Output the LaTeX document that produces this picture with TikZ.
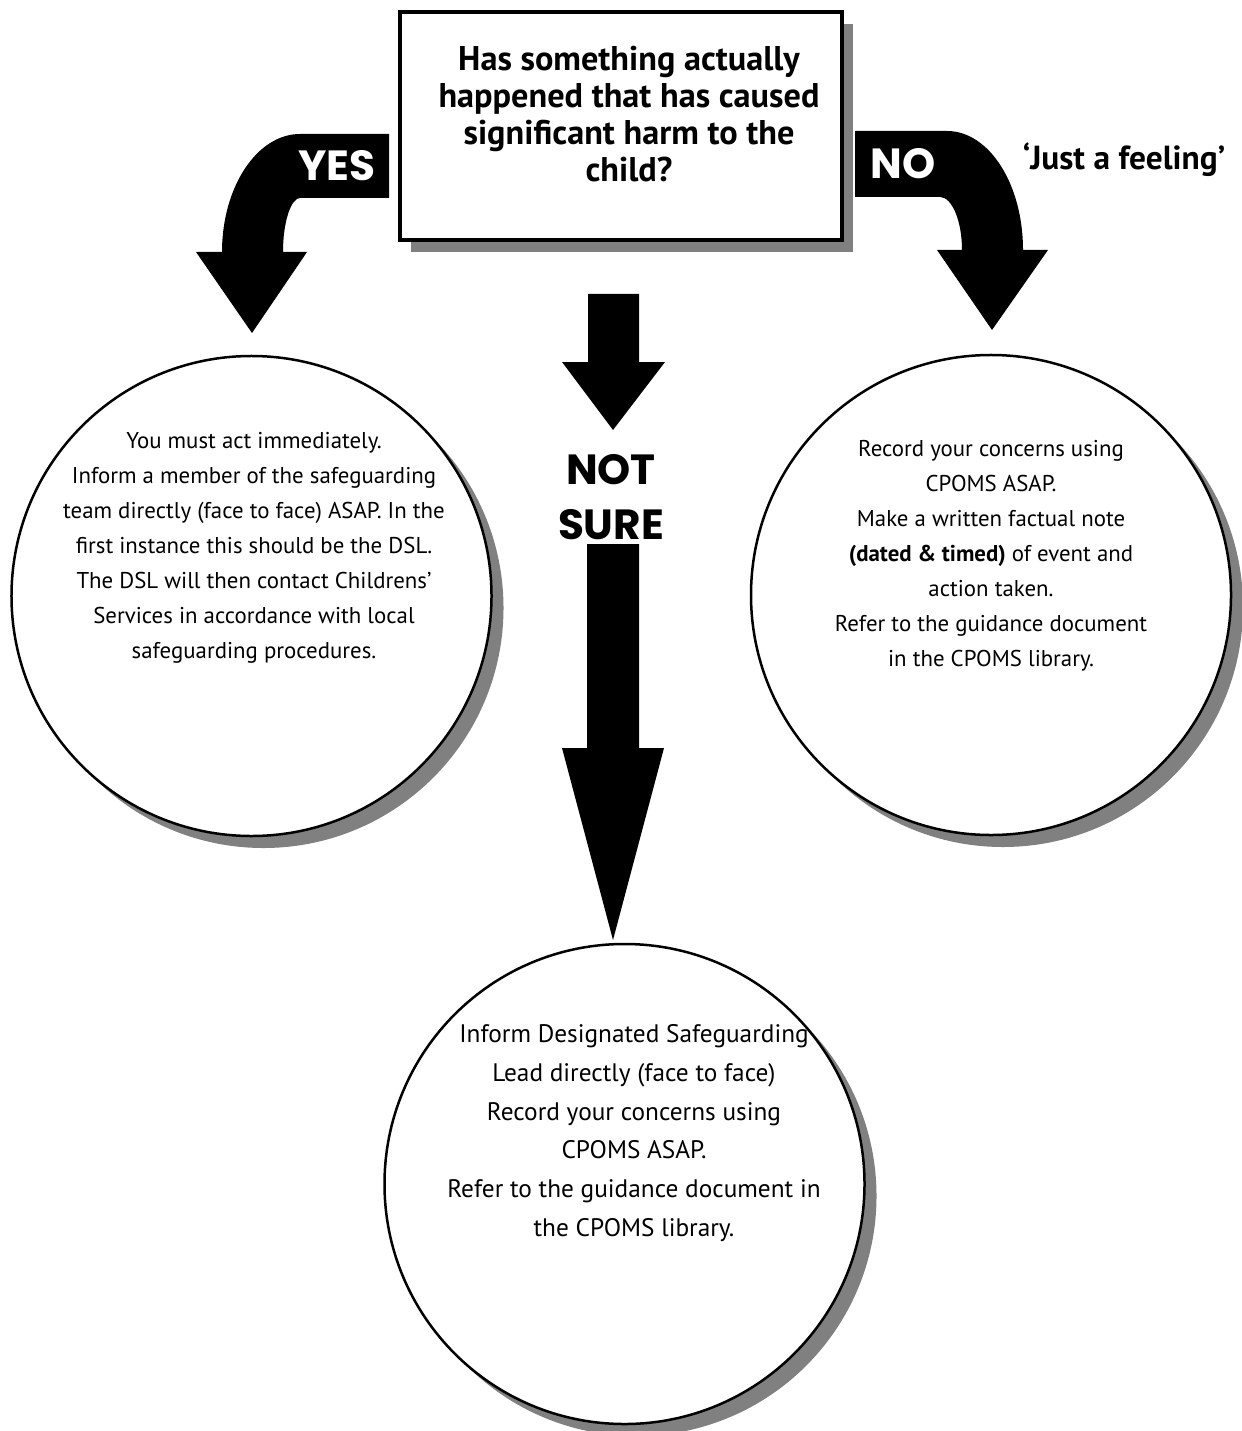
\documentclass[tikz,border=0pt]{standalone}
\usepackage{fontspec}
\setmainfont{PT Sans}
\newfontfamily\labelfont{Poppins}
\usetikzlibrary{shadows}
\definecolor{shadowgray}{RGB}{128,128,128}
\tikzset{
  qbox/.style={rectangle, draw, line width=0.7mm, fill=white,
    minimum width=88.4mm, minimum height=45.6mm,
    drop shadow={shadow xshift=2.2mm, shadow yshift=-2.4mm, fill=shadowgray, opacity=1}},
  outcome/.style={circle, draw, line width=0.5mm, fill=white, minimum size=96mm,
    drop shadow={shadow xshift=2.4mm, shadow yshift=-2.4mm, fill=shadowgray, opacity=1}},
  bodytext/.style={align=center, font=\fontsize{13}{19.9}\selectfont},
  bigtext/.style={align=center, font=\fontsize{14.4}{22}\selectfont},
  fatarrow/.style={fill=black, draw=none},
  answer/.style={font=\labelfont\fontsize{24}{24}\selectfont\bfseries, text=white},
}

\begin{document}
\begin{tikzpicture}[x=0.2mm, y=-0.2mm]
  \useasboundingbox (0,0) rectangle (1242,1431);

  % curved arrows left and right of the question
  \path[fatarrow] (389,134) -- (300,134) .. controls (257,134) and (222,187) .. (222,252)
    -- (196,252) -- (252,333) -- (307,252) -- (283,252)
    .. controls (283,222) and (291,198) .. (300,198) -- (389,198) -- cycle;
  \path[fatarrow] (855,131) -- (947,131) .. controls (989,131) and (1023,184) .. (1023,250)
    -- (1048,250) -- (992,330) -- (937,250) -- (962,250)
    .. controls (962,221) and (952,197) .. (940,197) -- (855,197) -- cycle;

  % question
  \node[qbox] (question) at (621,126) {};
  \node[align=center, font=\fontsize{19.5}{21}\selectfont\bfseries] (qtext) at (629,114)
    {Has something actually\\happened that has caused\\significant harm to the\\child?};

  \node[answer] (yes) at (337,166) {YES};
  \node[answer] (no) at (903,164) {NO};
  \node[font=\fontsize{19}{19}\selectfont\bfseries] (feeling) at (1124,160) {`Just a feeling'};

  % middle arrows
  \path[fatarrow] (588,294) -- (639,294) -- (639,362) -- (665,362) -- (613,430)
    -- (562,362) -- (588,362) -- cycle;
  \node[align=center, font=\labelfont\fontsize{24}{31}\selectfont\bfseries] (notsure) at (611,497) {NOT\\SURE};
  \path[fatarrow] (587,544) -- (639,544) -- (639,748) -- (664,748) -- (613,940)
    -- (562,748) -- (587,748) -- cycle;

  % outcomes
  \node[outcome] (harm) at (251.5,596) {};
  \node[bodytext] (harmtext) at (254,548)
    {You must act immediately.\\Inform a member of the safeguarding\\team directly (face to face) ASAP. In the\\first instance this should be the DSL.\\The DSL will then contact Childrens'\\Services in accordance with local\\safeguarding procedures.};

  \node[outcome] (feel) at (991,595) {};
  \node[bodytext] (feeltext) at (991,556)
    {Record your concerns using\\CPOMS ASAP.\\Make a written factual note\\\textbf{(dated \& timed)} of event and\\action taken.\\Refer to the guidance document\\in the CPOMS library.};

  \node[outcome] (unsure) at (624.5,1184) {};
  \node[bigtext] (unsuretext) at (634,1133)
    {Inform Designated Safeguarding\\Lead directly (face to face)\\Record your concerns using\\CPOMS ASAP.\\Refer to the guidance document in\\the CPOMS library.};
\end{tikzpicture}
\end{document}
